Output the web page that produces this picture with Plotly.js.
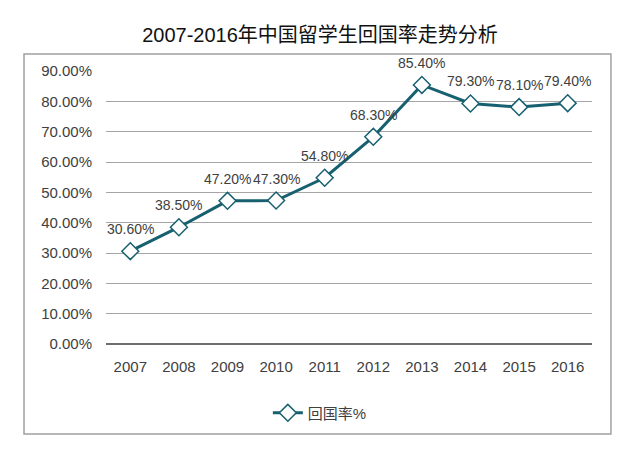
<!DOCTYPE html>
<html>
<head>
<meta charset="utf-8">
<script src="https://cdn.plot.ly/plotly-3.0.1.min.js"></script>
<style>
  html, body { margin: 0; padding: 0; background: #fff; }
  #chart { width: 640px; height: 451px; }
</style>
</head>
<body>
<div id="chart"></div>
<script>
// 年份 与 回国率
const years = ["2007", "2008", "2009", "2010", "2011", "2012", "2013", "2014", "2015", "2016"];
const rate = [0.306, 0.385, 0.472, 0.473, 0.548, 0.683, 0.854, 0.793, 0.781, 0.794];
const rateLabels = ["30.60%", "38.50%", "47.20%", "47.30%", "54.80%", "68.30%", "85.40%", "79.30%", "78.10%", "79.40%"];
const yTicks = [0, 0.1, 0.2, 0.3, 0.4, 0.5, 0.6, 0.7, 0.8, 0.9];

const font = "Liberation Sans, Arial, Noto Sans CJK SC, sans-serif";
const lineColor = "#17606f";

// 数据标签 (用类别序号定位)
let annotations = rate.map(function(v, i) {
    return {
        x: i, y: v, xref: "x", yref: "y",
        text: rateLabels[i], showarrow: false,
        yshift: 22,
        font: {family: font, size: 14, color: "#404040"}
    };
});

let layout = {
    width: 640, height: 451,
    margin: {l: 106, r: 48, t: 71, b: 107},
    paper_bgcolor: "#fff", plot_bgcolor: "#fff",
    title: {
        text: "2007-2016年中国留学生回国率走势分析",
        font: {family: font, size: 20, color: "#111"},
        x: 0.5, xanchor: "center", y: 0.922, yanchor: "middle"
    },
    xaxis: {
        type: "category",
        range: [-0.5, 9.5],
        showgrid: false, zeroline: false, showline: false,
        ticks: "", tickfont: {family: font, size: 15, color: "#404040"},
        ticklabelstandoff: 12
    },
    yaxis: {
        range: [0, 0.9],
        tickvals: yTicks,
        tickformat: ".2%",
        showgrid: true, gridcolor: "#a6a6a6", gridwidth: 1,
        zeroline: true, zerolinecolor: "#6e6e6e", zerolinewidth: 1.5,
        showline: false, ticks: "",
        tickfont: {family: font, size: 15, color: "#404040"},
        ticklabelstandoff: 13
    },
    showlegend: true,
    legend: {
        orientation: "h", x: 0.44, xanchor: "center", y: -0.253, yanchor: "middle",
        font: {family: font, size: 15, color: "#404040"}
    },
    annotations: annotations,
    shapes: [{
        type: "rect", xref: "paper", yref: "paper",
        x0: -0.1687, x1: 1.039, y0: -0.33, y1: 1.062,
        line: {color: "#a0a0a0", width: 1.5}, layer: "below"
    }]
};

Plotly.newPlot("chart", [{
    type: "scatter", mode: "lines+markers",
    name: "回国率%",
    x: years, y: rate,
    line: {color: lineColor, width: 3},
    marker: {symbol: "diamond", size: 13, color: "#fff", line: {color: lineColor, width: 1.5}},
    hoverinfo: "none"
}], layout, {displayModeBar: false, staticPlot: true});
</script>
</body>
</html>
